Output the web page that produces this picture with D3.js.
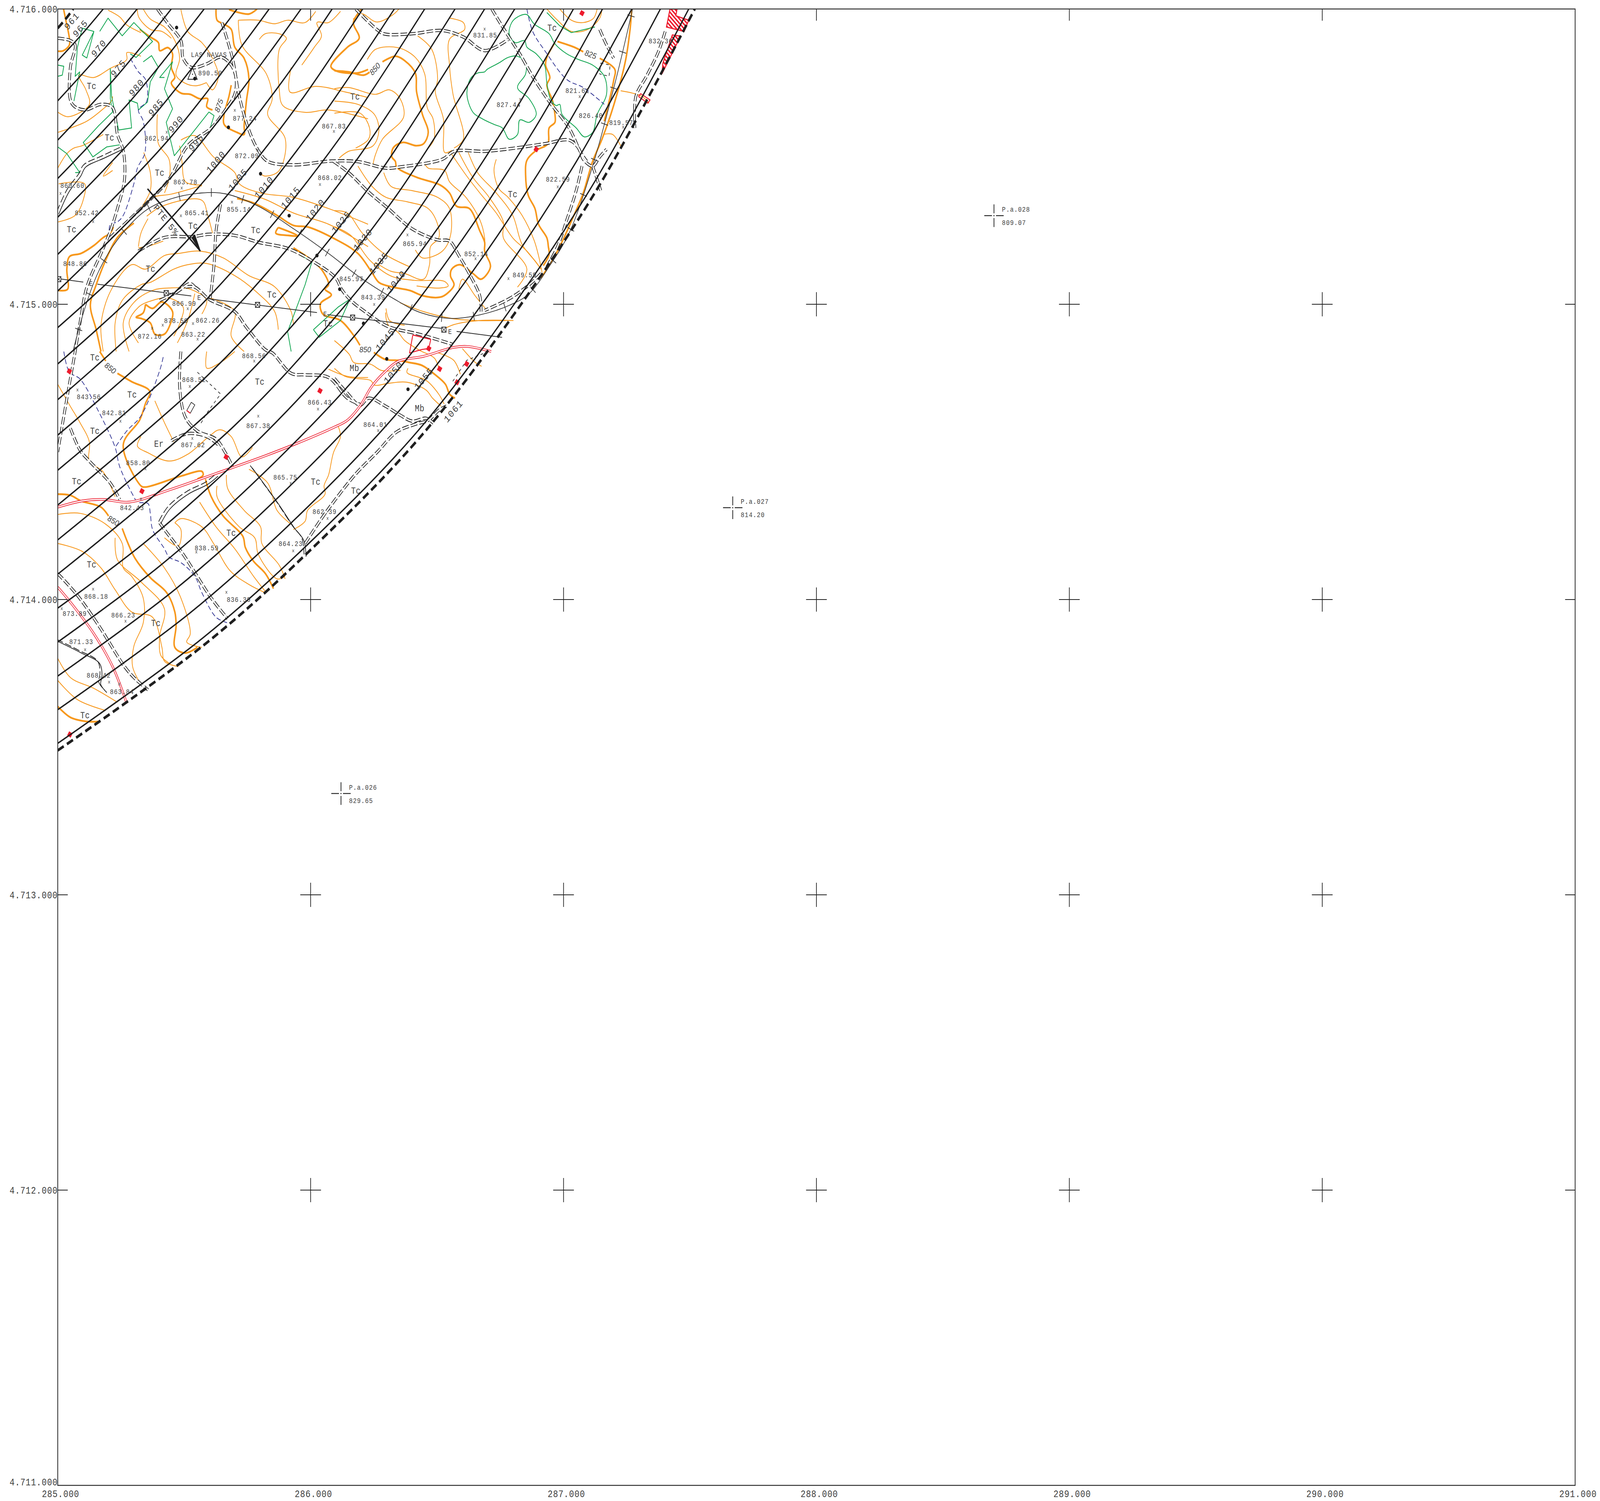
<!DOCTYPE html>
<html>
<head>
<meta charset="utf-8">
<script src="https://cdn.jsdelivr.net/npm/d3@7"></script>
<style>
html, body { margin: 0; padding: 0; background: #fff; overflow: hidden; }
svg { display: block; }
text { font-family: "Liberation Mono", monospace; fill: #3f3f3f; }
</style>
</head>
<body>
<script>
// all map values are metres east of 285.000 and north of 4.711.000
var eastTicks = [0, 1000, 2000, 3000, 4000, 5000, 6000];
var eastLabels = ["285.000", "286.000", "287.000", "288.000", "289.000", "290.000", "291.000"];
var northTicks = [0, 1000, 2000, 3000, 4000, 5000];
var northLabels = ["4.711.000", "4.712.000", "4.713.000", "4.714.000", "4.715.000", "4.716.000"];
var crossEast = [1000, 2000, 3000, 4000, 5000];
var crossNorth = [1000, 2000, 3000, 4000];

// the two dashed limits of the band
var limitArcs = [
  [[0,4935],[34,4969],[61,5000]],
  [[0,2489],[594,2857],[1031,3194],[1443,3560],[1809,3972],[2146,4409],[2519,5000]]
];
// concentric lines of the band, every 5 units
var bandArcs = [
  [[0,4825],[92,4911],[180,5000]],
  [[0,4689],[161,4842],[314,5000]],
  [[0,4556],[232,4771],[449,5000]],
  [[0,4426],[301,4702],[579,5000]],
  [[0,4295],[372,4631],[709,5000]],
  [[0,4169],[442,4561],[836,5000]],
  [[0,4045],[512,4491],[962,5000]],
  [[0,3921],[254,4120],[582,4421],[883,4749],[1085,5000]],
  [[0,3798],[317,4044],[652,4351],[959,4686],[1206,5000]],
  [[0,3677],[380,3969],[722,4281],[1034,4623],[1331,5000]],
  [[0,3557],[445,3892],[792,4211],[1111,4558],[1451,5000]],
  [[0,3438],[508,3816],[862,4141],[1187,4495],[1571,5000]],
  [[0,3320],[571,3741],[932,4071],[1262,4432],[1688,5000]],
  [[0,3202],[636,3665],[1002,4001],[1338,4367],[1807,5000]],
  [[0,3086],[699,3589],[1072,3931],[1414,4304],[1923,5000]],
  [[0,2971],[354,3200],[762,3514],[1142,3861],[1489,4241],[1803,4649],[2039,5000]],
  [[0,2856],[411,3119],[826,3438],[1215,3788],[1565,4177],[1884,4592],[2154,5000]],
  [[0,2741],[468,3037],[890,3361],[1286,3717],[1642,4113],[1966,4535],[2270,5000]],
  [[0,2627],[525,2956],[954,3285],[1357,3646],[1718,4049],[2047,4478],[2383,5000]],
  [[0,2513],[581,2875],[1017,3210],[1428,3575],[1793,3986],[2128,4422],[2495,5000]]
];
var arcLabels = [
  ["961",55,4960],["965",89,4935],["970",162,4868],["975",239,4800],["980",311,4735],["985",388,4668],
  ["990",467,4611],["995",547,4548],["1000",625,4483],["1005",712,4423],["1010",815,4397],["1015",920,4362],
  ["1020",1018,4320],["1025",1120,4279],["1030",1206,4220],["1035",1269,4140],["1040",1338,4078],
  ["1045",1294,3881],["1050",1326,3770],["1055",1447,3749],["1061",1564,3639]
];

var thickContours = [
  [[23,5000],[32,4962],[46,4901],[46,4878],[23,4859],[0,4857]],
  [[324,4931],[366,4905],[398,4886],[403,4859],[436,4869],[454,4848],[449,4802],[463,4768],[449,4749],[487,4715],[524,4711],[561,4696],[593,4696],[589,4669],[612,4658]],
  [[626,5000],[630,4962],[654,4950],[686,4931],[700,4871],[737,4833],[756,4764],[746,4688],[737,4605],[737,4575],[709,4582],[658,4609],[658,4643],[677,4704],[686,4742]],
  [[677,4998],[756,4983],[788,5000]],
  [[1201,5000],[1169,4954],[1192,4901],[1146,4871],[1080,4806],[1099,4791],[1183,4783],[1227,4795]],
  [[1094,4791],[1150,4787],[1210,4776],[1233,4786]],
  [[1284,4821],[1335,4840],[1372,4825],[1414,4783],[1419,4719],[1442,4643],[1465,4582],[1447,4544],[1419,4537],[1363,4548],[1326,4529],[1321,4499],[1335,4484],[1340,4465],[1419,4430],[1512,4404],[1549,4377],[1577,4332],[1628,4324],[1669,4248],[1688,4210],[1688,4180],[1711,4127],[1674,4085],[1642,4104],[1590,4134],[1558,4119],[1553,4096],[1567,4066],[1539,4036],[1512,4024],[1447,4028],[1391,4047],[1326,4058],[1270,4074],[1242,4108],[1187,4172],[1094,4222],[988,4262],[932,4267],[867,4301],[774,4343],[709,4358]],
  [[1976,4890],[2041,4871],[2078,4855]],
  [[2143,4833],[2203,4795],[2198,4757],[2161,4620]],
  [[2270,5000],[2263,4931],[2245,4825],[2198,4673],[2152,4559],[2115,4484],[2078,4377],[2041,4301],[1976,4180],[1911,4089]],
  [[1966,4886],[1934,4836],[1929,4810],[1946,4768],[1934,4742],[1957,4688],[1966,4643],[1966,4616],[1943,4597],[1938,4544],[1892,4521],[1855,4487],[1850,4438],[1860,4370],[1887,4324],[1901,4271],[1934,4225],[1940,4195],[1943,4169],[1920,4131]],
  [[0,4047],[39,4051],[36,4119],[46,4161],[92,4172],[143,4199],[180,4226],[208,4241],[220,4262]],
  [[301,4275],[236,4226],[190,4150],[152,4066],[129,3998],[152,3914],[171,3840]],
  [[347,4000],[375,3986],[412,4008],[454,3975],[445,3933],[422,3899],[384,3899],[366,3937],[329,3952],[310,3956],[338,3971],[347,4000]],
  [[872,4260],[950,4232],[913,4233],[862,4241],[872,4260]],
  [[932,4191],[1015,4142],[1048,4112],[1071,4066],[1057,4051],[1082,4032],[1039,4002],[1048,3967],[1118,3945],[1173,3891],[1195,3861]],
  [[1250,3837],[1296,3813],[1347,3810],[1389,3803],[1440,3793],[1490,3763],[1533,3729],[1550,3695],[1571,3682]],
  [[166,3840],[190,3808]],
  [[236,3766],[292,3738],[364,3705],[347,3664],[324,3608],[259,3524],[329,3385],[347,3381],[487,3418],[570,3434],[575,3422],[552,3408]],
  [[0,3357],[50,3353],[92,3334],[171,3313],[201,3283]],
  [[255,3241],[278,3190],[306,3139],[366,3074],[431,3023],[463,2958],[468,2912],[463,2838],[505,2819],[552,2838]],
  [[584,3408],[607,3348],[654,3283],[732,3214],[742,3176],[774,3130],[821,3088],[853,3037]],
  [[0,2638],[50,2601],[115,2587],[162,2587]]
];
var thinContours = [
  [[315,5000],[320,4973],[366,4931],[412,4924],[449,4901]],
  [[487,4998],[514,4924],[570,4886],[612,4833],[635,4772],[612,4726],[589,4749]],
  [[338,5000],[366,4966],[422,4939],[463,4893],[482,4833],[468,4776],[505,4748],[547,4740],[589,4751]],
  [[199,4996],[245,4973],[273,4946],[329,4920]],
  [[0,4651],[41,4635],[125,4677],[111,4727],[83,4776],[143,4768],[208,4799],[273,4829],[273,4852],[329,4840]],
  [[0,4582],[41,4594],[115,4620],[180,4662],[213,4689],[217,4704]],
  [[394,4643],[398,4544],[440,4491],[442,4431],[422,4377]],
  [[340,4514],[366,4446],[366,4385],[331,4328]],
  [[0,4461],[36,4510],[64,4529],[97,4537],[180,4575]],
  [[4,4408],[106,4408],[101,4354],[69,4301],[2,4279]],
  [[217,4480],[180,4434],[217,4453]],
  [[714,4962],[793,4962],[858,4950],[909,4962],[978,4954],[1020,4992]],
  [[797,4897],[820,4916],[876,4916],[904,4901],[876,4863],[876,4726],[890,4673],[978,4650],[1071,4658],[1227,4628]],
  [[714,4962],[728,4878],[825,4780],[848,4696],[830,4643],[900,4559],[876,4453],[820,4434],[802,4442]],
  [[923,4802],[918,4719],[1020,4738],[1136,4719],[1227,4700]],
  [[965,4810],[1015,4871],[1043,4909],[1025,4954],[1071,4954],[1118,4992]],
  [[487,4556],[542,4571],[616,4499],[700,4446],[718,4408],[802,4377],[932,4362],[1071,4324],[1227,4271]],
  [[482,4537],[491,4484],[505,4415],[570,4404]],
  [[331,4328],[375,4362],[449,4373],[570,4402]],
  [[352,4298],[412,4332],[570,4352],[593,4301],[612,4241]],
  [[319,4195],[329,4241],[357,4290]],
  [[319,4191],[366,4199],[417,4214]],
  [[180,3840],[171,3930],[208,4043],[292,4134],[347,4119],[422,4165],[477,4172],[561,4180],[654,4157],[756,4097],[858,4059],[923,3975],[932,3930]],
  [[231,3840],[227,3937],[255,4013],[329,4066],[366,4074],[459,4119],[514,4134],[589,4138],[700,4097],[784,4043],[858,3975],[872,3914]],
  [[282,3840],[259,3937],[301,4006],[375,4047],[440,4055],[524,4051],[589,4013],[570,3967]],
  [[319,3869],[282,3937],[319,3990],[375,4013],[440,4021],[496,3990],[487,3945],[459,3892]],
  [[473,3869],[514,3945],[542,4036]],
  [[603,4021],[700,3975],[686,3892],[737,3840]],
  [[1168,4965],[1201,4984],[1261,4956],[1326,4981],[1349,5000]],
  [[1224,4829],[1256,4863],[1345,4869],[1414,4836],[1451,4780],[1461,4666],[1484,4628],[1488,4559],[1465,4529]],
  [[1094,4730],[1150,4734],[1256,4711],[1312,4726],[1354,4696],[1368,4635],[1284,4559],[1256,4506],[1247,4476]],
  [[1094,4688],[1187,4677],[1252,4643],[1270,4590],[1247,4537],[1150,4518],[1113,4495]],
  [[1094,4647],[1196,4647],[1233,4597],[1229,4559],[1178,4529]],
  [[1423,4909],[1479,4863],[1502,4764],[1493,4719],[1525,4628],[1530,4514],[1558,4521]],
  [[1549,4969],[1604,4954],[1609,4931],[1549,4897],[1549,4810],[1563,4711],[1604,4559],[1567,4529]],
  [[1553,4514],[1614,4438],[1669,4377],[1734,4309],[1799,4225],[1855,4180],[1911,4119]],
  [[1734,4491],[1725,4453],[1744,4392],[1781,4362],[1836,4301],[1883,4218],[1901,4165],[1915,4108]],
  [[1623,4514],[1660,4446],[1734,4377],[1799,4301],[1836,4203],[1892,4142],[1911,4119]],
  [[1586,4514],[1641,4430],[1706,4362],[1762,4279],[1762,4225],[1855,4119],[1818,4058]],
  [[1451,4476],[1465,4461],[1530,4453],[1549,4415],[1614,4362],[1669,4286],[1688,4225],[1688,4195]],
  [[1289,4446],[1317,4400],[1400,4385],[1502,4362],[1549,4324],[1553,4233],[1521,4180],[1442,4157],[1414,4184]],
  [[1187,4468],[1242,4400],[1298,4362],[1382,4347],[1465,4324],[1502,4271],[1507,4225],[1474,4195],[1470,4134],[1447,4085],[1372,4104],[1317,4112],[1256,4142]],
  [[1094,4317],[1145,4309],[1205,4240],[1289,4172],[1391,4127]],
  [[1094,4263],[1159,4233],[1233,4150],[1317,4096],[1410,4081],[1530,4077],[1544,4062],[1512,4055],[1419,4062]],
  [[1586,4051],[1600,4085],[1651,4028],[1697,3979]],
  [[1298,3986],[1312,3945],[1372,3929]],
  [[1354,4005],[1447,3975],[1558,3952],[1651,3945],[1771,3945]],
  [[2156,4575],[2194,4575],[2231,4529]],
  [[2226,4723],[2273,4715],[2310,4704],[2338,4681]],
  [[1934,5000],[1976,4962],[2031,4924],[2096,4931],[2143,4969],[2152,5000]],
  [[1985,5000],[2031,4962],[2078,4954],[2119,4969],[2133,5000]],
  [[700,4385],[821,4355],[932,4309],[1071,4271],[1227,4195]],
  [[0,3288],[88,3292],[190,3255],[255,3190],[259,3107],[292,3079],[338,3005],[338,2921],[301,2842],[296,2773],[329,2712]],
  [[0,3190],[97,3163],[171,3107],[227,3033],[292,2958],[375,2940],[412,2838],[422,2791],[477,2773]],
  [[227,3209],[236,3135],[329,3060],[422,2968],[403,2875],[408,2810],[445,2782]],
  [[338,3190],[422,3107],[487,3005],[524,2884],[510,2856],[570,2838]],
  [[561,3330],[626,3246],[700,3172],[774,3079],[825,3023]],
  [[463,3260],[487,3274],[570,3246],[616,3190],[681,3098],[756,3051],[821,3023]],
  [[463,3260],[487,3237],[477,3181],[422,3209]],
  [[0,2801],[50,2736],[143,2699],[236,2652]],
  [[0,2726],[78,2661],[190,2624]],
  [[630,3385],[630,3348],[718,3246],[779,3209],[793,3153],[867,3070],[899,3079]],
  [[667,3422],[672,3376],[737,3302],[802,3246],[807,3190],[876,3116],[899,3070]],
  [[770,3515],[728,3483],[686,3552],[640,3575],[598,3552],[514,3492],[440,3469],[357,3497],[315,3520],[329,3552]],
  [[384,3673],[422,3599],[459,3534]],
  [[756,3441],[830,3395],[867,3302],[923,3255]],
  [[1108,3589],[1118,3552],[1090,3497],[1071,3422],[1053,3385],[1057,3357],[988,3302],[978,3265],[932,3237]],
  [[0,3729],[50,3654],[88,3599],[125,3534],[125,3469],[180,3432],[227,3348]],
  [[589,3840],[589,3784],[644,3803],[700,3840]],
  [[1071,3780],[1145,3756],[1227,3752]],
  [[1094,3877],[1153,3830],[1170,3803],[1237,3797],[1280,3776],[1355,3776]],
  [[1094,3783],[1136,3756],[1178,3749],[1237,3742],[1254,3726],[1305,3732],[1381,3736],[1457,3709],[1482,3682],[1516,3655]],
  [[1385,3783],[1381,3769],[1457,3742],[1507,3695],[1528,3662]],
  [[1296,3972],[1305,3932],[1347,3904],[1372,3877],[1431,3844],[1490,3817],[1507,3783]],
  [[1499,3837],[1566,3810],[1592,3763]],
  [[1600,3850],[1651,3803],[1676,3790]],
  [[1516,3911],[1566,3931],[1668,3945],[1802,3945]]
];
var greenLines = [
  [[97,4935],[143,4924],[115,4834],[97,4844],[143,4924]],
  [[97,4935],[78,4871],[69,4772],[87,4787],[64,4688]],
  [[166,4924],[199,4969],[255,4909],[301,4954],[375,4890],[310,4836],[287,4848]],
  [[208,4795],[213,4704],[241,4590],[292,4597],[282,4692],[315,4681],[319,4658],[355,4685],[366,4753],[398,4802],[371,4842],[338,4821]],
  [[208,4799],[208,4696],[217,4651],[162,4605],[101,4548],[139,4499],[194,4533],[245,4540]],
  [[422,4768],[403,4768],[454,4821],[422,4730],[454,4662],[429,4616],[461,4503],[598,4651],[618,4639],[603,4597]],
  [[0,4810],[24,4806],[18,4776],[0,4772]],
  [[0,4533],[36,4510],[87,4446],[69,4446]],
  [[960,4165],[1006,4146],[978,4066],[909,3907],[923,3840]],
  [[1011,3914],[1108,3990],[1155,4017],[1118,3945],[1034,3888],[1011,3914]],
  [[1934,4988],[1985,4943],[2031,4920],[2124,4939]]
];
var greenClumps = [
  [[1688,4787],[1660,4783],[1632,4764],[1618,4711],[1642,4650],[1679,4628],[1725,4609],[1758,4597],[1785,4559],[1818,4575],[1827,4624],[1864,4616],[1892,4643],[1864,4696],[1818,4734],[1850,4780],[1850,4817],[1818,4840],[1781,4836],[1744,4817],[1697,4795]],
  [[1855,4981],[1818,4973],[1795,4954],[1785,4916],[1809,4886],[1846,4893],[1855,4871],[1892,4848],[1925,4810],[1934,4749],[1948,4696],[1971,4673],[1985,4677],[1994,4643],[2050,4597],[2082,4567],[2115,4582],[2133,4643],[2170,4711],[2161,4772],[2115,4810],[2059,4829],[2013,4848],[1966,4882],[1943,4916],[1883,4950]]
];
var streams = [
  [[287,4833],[319,4787],[347,4761],[352,4688],[319,4658],[338,4620],[345,4514],[315,4461],[301,4408],[259,4301],[236,4279],[208,4271],[203,4241]],
  [[24,3840],[46,3770],[88,3747],[162,3636],[227,3515],[245,3450],[301,3348],[315,3330],[357,3325],[366,3292],[375,3237],[422,3172],[440,3144],[487,3125],[542,3079],[570,3023],[626,2940],[672,2921]],
  [[417,3821],[403,3775],[329,3622],[273,3571],[227,3515]],
  [[1855,5000],[1878,4924],[1929,4855],[2013,4761],[2078,4734],[2161,4677]]
];
var tracks = [
  [[0,4901],[50,4893],[69,4878],[50,4802],[55,4681],[106,4658],[171,4677],[217,4666],[236,4575],[259,4521],[264,4423],[236,4324],[208,4248],[171,4172],[115,4058],[88,3937],[69,3840],[40,3700],[0,3500]],
  [[394,5000],[440,4946],[487,4893],[496,4833],[528,4802],[589,4814],[644,4837],[686,4810],[705,4764],[700,4711],[663,4658],[607,4597],[514,4537],[440,4423],[366,4355],[292,4294],[208,4226]],
  [[649,4954],[691,4833],[718,4704],[756,4590],[793,4521],[830,4484],[932,4472],[1080,4485],[1187,4483],[1298,4461],[1354,4465],[1521,4491],[1567,4518],[1688,4518],[1809,4529],[1929,4544],[2022,4556],[2059,4529],[2078,4491],[2115,4468],[2143,4499],[2170,4525]],
  [[1090,4484],[1150,4446],[1233,4377],[1307,4324],[1400,4256],[1502,4218],[1549,4214],[1586,4165],[1632,4096],[1669,4028],[1674,3975]],
  [[1716,5000],[1762,4935],[1827,4848],[1883,4764],[1948,4681],[2022,4597],[2068,4514],[2092,4484]],
  [[1178,5000],[1261,4931],[1289,4916],[1400,4916],[1521,4927],[1604,4905],[1688,4859],[1781,4897]],
  [[2115,4468],[2133,4423],[2147,4385]],
  [[2143,4931],[2166,4886],[2198,4833]],
  [[2402,4924],[2375,4855],[2328,4772],[2286,4704],[2282,4597]],
  [[2073,4468],[2050,4385],[2013,4286],[1976,4195],[1929,4119]],
  [[1911,4104],[1864,4066],[1790,4021],[1688,3979]],
  [[319,4180],[422,4226],[533,4229],[598,4237],[700,4233],[793,4210],[913,4188],[1015,4142],[1099,4089],[1122,4051],[1159,4013],[1220,3972],[1305,3925],[1431,3898],[1562,3864]],
  [[505,4058],[542,4058],[598,4017],[700,3975],[746,3922],[821,3846],[849,3835],[923,3766],[978,3761],[1071,3752],[1145,3682],[1201,3659]],
  [[644,4339],[626,4248],[618,4134],[603,4021]],
  [[487,3840],[482,3719],[505,3617],[552,3571],[626,3543],[663,3497],[691,3450]],
  [[403,4013],[468,4040],[524,4070],[542,4058]],
  [[449,3538],[514,3562],[589,3552],[635,3524]],
  [[50,3580],[88,3506],[125,3469],[208,3394],[245,3339]],
  [[0,3088],[78,3014],[162,2912],[264,2773],[301,2736],[357,2694]],
  [[403,3260],[422,3237],[496,3153],[607,3005],[672,2935]],
  [[978,3190],[1043,3274],[1090,3330],[1178,3425],[1263,3499],[1339,3567],[1415,3594],[1465,3607],[1507,3641],[1537,3655]],
  [[1094,3749],[1145,3699],[1195,3658],[1229,3682],[1296,3655],[1355,3624],[1402,3604],[1457,3614],[1486,3597]]
];
// one solid and one dashed side
var mixedRoads = [
  [[0,4309],[41,4385],[87,4438],[106,4468],[180,4499],[254,4529]],
  [[765,3450],[867,3330],[932,3246],[969,3204],[978,3149]],
  [[403,3260],[440,3311],[514,3362],[589,3394],[630,3422]],
  [[0,2861],[87,2824],[162,2787],[171,2745],[166,2717],[190,2689]]
];
// line with cross ticks following the band
var tickedLine = [[60,3840],[106,3983],[162,4112],[236,4218],[347,4317],[440,4355],[570,4377],[663,4374],[793,4332],[932,4256],[1071,4172],[1187,4096],[1326,4020],[1437,3971],[1558,3952],[1669,3964],[1790,3998],[1864,4036],[1948,4134],[2022,4241],[2115,4468],[2208,4764],[2273,5000]];
var powerLines = [
  [[0,4087],[101,4075]],
  [[157,4068],[528,4028]],
  [[593,4019],[1025,3972]],
  [[1066,3965],[1521,3918]],
  [[1577,3908],[1757,3888]]
];
var pylons = [[4,4085],[429,4038],[790,3998],[1166,3955],[1527,3914]];
var powerLabels = [[131,4070],[559,4022],[1057,3967],[1551,3908]];
var redRoads = [
  [[0,3313],[97,3334],[180,3339],[282,3330],[440,3371],[626,3427],[821,3487],[960,3534],[1094,3584],[1145,3607],[1195,3655],[1242,3722],[1296,3773],[1347,3807],[1448,3824],[1566,3854],[1621,3857],[1714,3840]],
  [[0,3042],[50,2991],[143,2884],[217,2773],[273,2648]]
];
var hatchedPlots = [
  [[2421,5000],[2449,5000],[2444,4977],[2495,4962],[2477,4924],[2407,4939]],
  [[2430,4912],[2463,4908],[2389,4780],[2393,4817]]
];
var redOutlines = [
  [[1404,3896],[1475,3881],[1467,3850],[1440,3847],[1391,3835],[1404,3896]],
  [[2296,4704],[2305,4713],[2342,4692],[2333,4681],[2296,4704]],
  [[524,3631],[510,3640]]
];
var redSpots = [[2073,4986],[1892,4525],[1037,3707],[666,3483],[333,3367],[46,3773],[48,2543],[1617,3798],[1579,3736],[1510,3781],[1467,3850]];
var blackDots = [[470,4937],[542,4764],[675,4599],[802,4442],[915,4300],[1025,4165],[1115,4051],[1209,3935],[1301,3815],[1385,3712]];
var fenceLines = [
  [[552,3770],[644,3696],[589,3631],[561,3589]],
  [[1562,3739],[1617,3810],[1685,3834]],
  [[2147,4817],[2184,4810],[2180,4772],[2143,4780],[2147,4817]]
];
var buildingOutline = [[510,3640],[528,3668],[542,3659],[524,3631],[510,3640]];

var spotHeights = [
  ["890.50",603,4783],["877.24",740,4630,700,4655],["867.83",1092,4603,1092,4584],["862.94",391,4563,431,4582],
  ["872.09",748,4503,791,4521],["868.02",1076,4429,1037,4404],["860.60",58,4402,11,4374],["863.78",505,4415,490,4392],
  ["865.41",550,4310,487,4298],["855.14",716,4322,689,4345],["852.42",115,4310,140,4279],["848.86",69,4138,97,4122],
  ["845.97",1161,4087,1204,4081],["866.99",500,4003,514,3983],["878.50",468,3945,415,3928],["862.26",593,3946,535,3933],
  ["872.16",364,3892,373,3917],["863.22",536,3899,553,3880],["831.85",1690,4912,1688,4931],["821.61",2055,4724,2064,4702],
  ["827.44",1783,4676,1829,4692],["826.40",2108,4639],["832.36",2384,4892],["819.57",2228,4615,2236,4599],
  ["822.59",1978,4424,1977,4396],["865.94",1412,4205,1383,4233],["852.14",1655,4171,1652,4153],["849.59",1846,4100,1782,4085],
  ["843.39",1247,4024,1251,3998],["868.56",776,3826,777,3807],["868.52",539,3745,522,3720],["843.56",123,3687,78,3708],
  ["842.81",223,3633,248,3603],["866.43",1036,3668,1029,3644],["867.38",793,3589,793,3620],["867.62",535,3524,532,3544],
  ["858.80",318,3464,347,3441],["865.75",900,3414,921,3392],["842.43",294,3311,329,3339],["838.59",589,3175,548,3159],
  ["862.39",1055,3298,1067,3273],["864.23",921,3189,931,3163],["836.39",716,3000,667,3023],["868.18",152,3011,140,3034],
  ["873.89",67,2953,16,2968],["866.23",259,2947,268,2926],["871.33",93,2857,108,2829],["868.42",162,2744,203,2719],
  ["863.84",254,2688,243,2712],["864.01",1256,3593,1267,3571]
];
var soilLabels = [
  ["Tc",134,4739],["Tc",205,4565],["Tc",403,4446],["Tc",55,4254],["Tc",535,4266],["Tc",783,4252],["Tc",367,4120],["Tc",847,4033],
  ["Tc",1176,4704],["Tc",1069,3935],["Tc",1955,4937],["Tc",1799,4373],["Tc",147,3820],["Tc",294,3694],["Tc",147,3571],["Tc",75,3401],
  ["Tc",134,3119],["Tc",388,2921],["Tc",108,2608],["Tc",799,3738],["Tc",1020,3400],["Tc",686,3226],["Tc",1179,3369],
  ["Mb",1173,3784],["Mb",1431,3648],["Er",400,3528]
];
var contourLabels = [["850",1254,4797,-45],["825",2107,4846,18],["850",208,3784,35],["850",220,3267,28],["850",1216,3847,0],["875",637,4673,-68]];
var placeLabel = ["LAS NAVAS",598,4846];
var slopeLine = [[355,4391],[564,4180]];
var slopeHead = [[530,4225],[564,4180],[542,4235]];
var slopeLabel = ["PTE 5%",429,4285];
var triangleVertex = [533,4783];
var controlPoints = [
  ["P.a.026","829.65",1120,2343],
  ["P.a.027","814.20",2669,3311],
  ["P.a.028","809.07",3702,4300]
];

var orange = "#f7981d", green = "#10a550", navy = "#2e3192", red = "#ed1c2e", ink = "#1f1f1f";

var x = d3.scaleLinear().domain([0, 6000]).range([172.6, 4708.7]);
var y = d3.scaleLinear().domain([0, 5000]).range([3803, 23]);

// the sheet is 4783x3843; fit it to whatever window we actually get
var svg = d3.select("body").append("svg")
  .attr("viewBox", "0 0 4783 3843").attr("preserveAspectRatio", "none")
  .style("width", "100vw").style("height", "100vh");
svg.append("rect").attr("width", 4783).attr("height", 3843).attr("fill", "#fff");

var defs = svg.append("defs");
defs.append("clipPath").attr("id", "sheet").append("rect")
  .attr("x", x(0)).attr("y", y(5000)).attr("width", x(6000) - x(0)).attr("height", y(0) - y(5000));
var hatch = defs.append("pattern").attr("id", "hatch").attr("patternUnits", "userSpaceOnUse")
  .attr("width", 8).attr("height", 8).attr("patternTransform", "rotate(-45)");
hatch.append("rect").attr("width", 4).attr("height", 8).attr("fill", red);

var smooth = d3.line().x(function(d){ return x(d[0]); }).y(function(d){ return y(d[1]); }).curve(d3.curveCatmullRom.alpha(0.5));
var straight = d3.line().x(function(d){ return x(d[0]); }).y(function(d){ return y(d[1]); });
var closedSmooth = d3.line().x(function(d){ return x(d[0]); }).y(function(d){ return y(d[1]); }).curve(d3.curveCatmullRomClosed.alpha(0.5));

var map = svg.append("g").attr("clip-path", "url(#sheet)");

function drawLines(data, gen, color, width, dash) {
  return map.append("g").selectAll("path").data(data).enter().append("path")
    .attr("d", gen).attr("fill", "none").attr("stroke", color).attr("stroke-width", width)
    .attr("stroke-dasharray", dash || null).attr("stroke-linejoin", "round");
}

drawLines(thinContours, smooth, orange, 2.2);
drawLines(thickContours, smooth, orange, 4.6);
drawLines(greenLines, straight, green, 2.2);
drawLines(greenClumps, closedSmooth, green, 2.2);
drawLines(streams, smooth, navy, 2, "13,7");

// tracks: dashed dark stroke with a white core leaves two dashed lines
drawLines(tracks, smooth, "#1f1f1f", 8, "20,6");
drawLines(tracks, smooth, "#fff", 4.2);
// mixed roads: solid line on one side, dashed on the other
drawLines(mixedRoads, smooth, "#1f1f1f", 2).attr("transform", "translate(3,3)");
drawLines(mixedRoads, smooth, "#1f1f1f", 2, "20,7").attr("transform", "translate(-3,-3)");
drawLines(redRoads, smooth, red, 6.4);
drawLines(redRoads, smooth, "#fff", 3);

var ticked = drawLines([tickedLine], smooth, "#2b2b2b", 1.8);
drawLines(powerLines, straight, "#2b2b2b", 2);
drawLines(fenceLines, straight, "#2b2b2b", 1.8, "8,8");
drawLines([buildingOutline], straight, "#2b2b2b", 1.8);
drawLines(redOutlines, straight, red, 2.6);

// cross ticks along the curved line
var node = ticked.node(), len = node.getTotalLength();
d3.range(60, len, 96).forEach(function(s) {
  var a = node.getPointAtLength(s - 1), b = node.getPointAtLength(s + 1);
  var dx = b.x - a.x, dy = b.y - a.y, n = Math.sqrt(dx * dx + dy * dy) || 1;
  map.append("line")
    .attr("x1", a.x - dy / n * 11).attr("y1", a.y + dx / n * 11)
    .attr("x2", a.x + dy / n * 11).attr("y2", a.y - dx / n * 11)
    .attr("stroke", "#2b2b2b").attr("stroke-width", 1.8);
});

map.append("g").selectAll("path").data(hatchedPlots).enter().append("path")
  .attr("d", function(d){ return straight(d) + "Z"; })
  .attr("fill", "url(#hatch)").attr("stroke", red).attr("stroke-width", 3);

map.append("g").selectAll("rect").data(redSpots).enter().append("rect")
  .attr("x", -6).attr("y", -6).attr("width", 12).attr("height", 12).attr("fill", red)
  .attr("transform", function(d){ return "translate(" + x(d[0]) + "," + y(d[1]) + ") rotate(30)"; });
map.append("g").selectAll("circle").data(blackDots).enter().append("circle")
  .attr("cx", function(d){ return x(d[0]); }).attr("cy", function(d){ return y(d[1]); })
  .attr("r", 4.8).attr("fill", "#1c1c1c");

// band lines on top of everything else in the map
drawLines(bandArcs, smooth, ink, 3.7);
drawLines(limitArcs, smooth, ink, 7, "21,11");

// pylons and their E marks
var py = map.append("g").selectAll("g").data(pylons).enter().append("g")
  .attr("transform", function(d){ return "translate(" + x(d[0]) + "," + y(d[1]) + ")"; });
py.append("rect").attr("x", -6.5).attr("y", -6.5).attr("width", 13).attr("height", 13)
  .attr("fill", "#fff").attr("stroke", "#2b2b2b").attr("stroke-width", 2);
py.append("path").attr("d", "M-6.5,-6.5L6.5,6.5M6.5,-6.5L-6.5,6.5").attr("stroke", "#2b2b2b").attr("stroke-width", 1.5);
map.append("g").selectAll("text").data(powerLabels).enter().append("text")
  .attr("x", function(d){ return x(d[0]); }).attr("y", function(d){ return y(d[1]) + 6; })
  .attr("text-anchor", "middle").attr("font-size", 18).text("E");

// slope arrow
drawLines([slopeLine], straight, ink, 4);
map.append("path").attr("d", straight(slopeHead) + "Z").attr("fill", ink).attr("stroke", ink).attr("stroke-width", 2);
map.append("text").attr("transform", "translate(" + x(slopeLabel[1]) + "," + y(slopeLabel[2]) + ") rotate(48)")
  .attr("text-anchor", "middle").attr("dy", "0.35em").attr("font-size", 24).attr("letter-spacing", 2).text(slopeLabel[0]);

// triangulation mark at Las Navas
var tv = [x(triangleVertex[0]), y(triangleVertex[1])];
map.append("path").attr("d", "M" + tv[0] + "," + (tv[1] - 14) + "l14,30h-28z")
  .attr("fill", "none").attr("stroke", ink).attr("stroke-width", 2);
map.append("circle").attr("cx", tv[0]).attr("cy", tv[1] + 3).attr("r", 1.6).attr("fill", ink);

// texts
function mapText(data, size, extra) {
  return map.append("g").selectAll("text").data(data).enter().append("text")
    .attr("x", function(d){ return x(d[1]); }).attr("y", function(d){ return y(d[2]); })
    .attr("dy", "0.35em").attr("text-anchor", "middle").attr("font-size", size)
    .attr("letter-spacing", extra).text(function(d){ return d[0]; });
}
mapText(spotHeights, 18, 1.2);
mapText(soilLabels, 23, 0.6);
mapText([placeLabel], 18, 1.2);
map.append("g").selectAll("text").data(spotHeights.filter(function(d){ return d.length > 3; })).enter().append("text")
  .attr("x", function(d){ return x(d[3]); }).attr("y", function(d){ return y(d[4]); })
  .attr("dy", "0.2em").attr("text-anchor", "middle").attr("font-size", 13).text("x");

map.append("g").selectAll("text").data(arcLabels).enter().append("text")
  .attr("transform", function(d){ return "translate(" + x(d[1]) + "," + y(d[2]) + ") rotate(-46)"; })
  .attr("dy", "0.35em").attr("text-anchor", "middle").attr("font-size", 25).attr("letter-spacing", 2.5)
  .text(function(d){ return d[0]; });

var cl = map.append("g").selectAll("g").data(contourLabels).enter().append("g")
  .attr("transform", function(d){ return "translate(" + x(d[1]) + "," + y(d[2]) + ") rotate(" + d[3] + ")"; });
cl.append("text").attr("dy", "0.35em").attr("text-anchor", "middle").attr("font-size", 21)
  .attr("font-style", "italic").style("font-family", "'Liberation Sans Narrow', 'Liberation Sans', sans-serif")
  .text(function(d){ return d[0]; });

// control points
var cp = svg.append("g").selectAll("g").data(controlPoints).enter().append("g")
  .attr("transform", function(d){ return "translate(" + x(d[2]) + "," + y(d[3]) + ")"; });
cp.append("path").attr("d", "M-29,0H-6M6,0H29M0,-29V-6M0,6V29").attr("stroke", ink).attr("stroke-width", 2.2);
cp.append("circle").attr("r", 1.6).attr("fill", ink);
cp.append("text").attr("x", 24).attr("y", -10).attr("font-size", 18).attr("letter-spacing", 1.2).text(function(d){ return d[0]; });
cp.append("text").attr("x", 24).attr("y", 24).attr("font-size", 18).attr("letter-spacing", 1.2).text(function(d){ return d[1]; });

// grid crosses
var crossPts = d3.cross(crossEast, crossNorth);
svg.append("g").selectAll("path").data(crossPts).enter().append("path")
  .attr("d", function(d){ var a = x(d[0]), b = y(d[1]); return "M" + (a - 31) + "," + b + "H" + (a + 31) + "M" + a + "," + (b - 31) + "V" + (b + 31); })
  .attr("stroke", ink).attr("stroke-width", 2).attr("fill", "none");

// frame and axes
var axisBottom = d3.axisBottom(x).tickValues(eastTicks).tickSize(0)
  .tickFormat(function(d, i){ return eastLabels[i]; });
var gx = svg.append("g").attr("transform", "translate(0," + y(0) + ")").call(axisBottom);
gx.select(".domain").remove();
gx.selectAll("text").attr("x", 8).attr("y", 12).attr("dy", "0.71em")
  .style("font-family", "'Liberation Mono', monospace").style("font-size", "25px").style("letter-spacing", "1px").style("fill", "#3f3f3f");

var axisLeft = d3.axisLeft(y).tickValues(northTicks).tickSize(0)
  .tickFormat(function(d, i){ return northLabels[i]; });
var gy = svg.append("g").attr("transform", "translate(" + x(0) + ",0)").call(axisLeft);
gy.select(".domain").remove();
gy.selectAll("text").attr("x", 0).attr("dy", function(d){ return d === 0 ? "-0.04em" : "0.32em"; })
  .style("font-family", "'Liberation Mono', monospace").style("font-size", "25px").style("letter-spacing", "1px").style("fill", "#3f3f3f");

// short ticks on the frame
var edge = svg.append("g").attr("stroke", ink).attr("stroke-width", 2);
edge.selectAll("line.t").data(crossEast).enter().append("line").attr("class", "t")
  .attr("x1", function(d){ return x(d); }).attr("x2", function(d){ return x(d); })
  .attr("y1", y(5000)).attr("y2", y(5000) + 30);
edge.selectAll("line.l").data(crossNorth).enter().append("line").attr("class", "l")
  .attr("x1", x(0)).attr("x2", x(0) + 30)
  .attr("y1", function(d){ return y(d); }).attr("y2", function(d){ return y(d); });
edge.selectAll("line.r").data(crossNorth).enter().append("line").attr("class", "r")
  .attr("x1", x(6000) - 30).attr("x2", x(6000))
  .attr("y1", function(d){ return y(d); }).attr("y2", function(d){ return y(d); });

svg.append("rect").attr("x", x(0)).attr("y", y(5000)).attr("width", x(6000) - x(0)).attr("height", y(0) - y(5000))
  .attr("fill", "none").attr("stroke", "#2b2b2b").attr("stroke-width", 2.4);
</script>
</body>
</html>
